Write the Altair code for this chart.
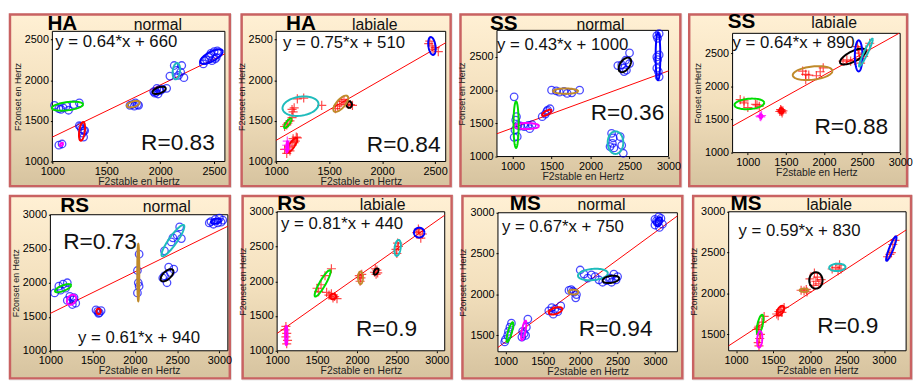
import numpy as np
import pandas as pd
import altair as alt

# ---------------- colours of the clusters ----------------
COLS = {"b": "#0000ff", "g": "#00dd00", "m": "#ff00ff", "r": "#ff0000",
        "k": "#000000", "c": "#1fbcbc", "o": "#c08a2a"}

# ---------------- data ----------------
# HA normal
HA_N_X = [1020, 1060, 1100, 1150, 1200, 1250, 1130, 1080, 1060, 1090,
          1250, 1270, 1290, 1280, 1300, 1290, 1260, 1720, 1760, 1790, 1740, 1770, 1800,
          1940, 1960, 1990, 2020, 2060, 1970, 2000, 1950, 1980,
          2090, 2130, 2200, 2170, 2220, 2150, 2190,
          2400, 2430, 2460, 2500, 2520, 2480, 2540, 2450, 2410, 2510, 2470, 2530]
HA_N_Y = [1690, 1650, 1660, 1630, 1700, 1720, 1680, 1640, 1200, 1215,
          1440, 1400, 1380, 1350, 1380, 1300, 1430, 1690, 1680, 1700, 1700, 1720, 1690,
          1860, 1850, 1880, 1890, 1900, 1900, 1870, 1840, 1830,
          2050, 2180, 2180, 2060, 2030, 2120, 2100,
          2200, 2250, 2300, 2350, 2280, 2240, 2330, 2280, 2240, 2260, 2330, 2360]
HA_N_ELL = [(1140, 1680, 145, 55, 0.4, "g"), (1085, 1210, 15, 20, 0.5, "m"),
            (1275, 1370, 28, 115, 0.4, "r"), (1750, 1705, 60, 40, 0.5, "o"),
            (1990, 1875, 60, 45, 0.5, "k"), (2150, 2110, 35, 100, 0.2, "c"),
            (2475, 2290, 105, 90, 0.7, "b")]
HA_N_FIT = (0.64, 660)
HA_N_R = 0.83

# HA labiale
HA_L_X = [2450, 2470, 2500, 2530, 2440, 2480, 1680, 1700, 1720, 1560, 1600, 1640, 1660, 1580, 1620,
          1150, 1160, 1170, 1200, 1260, 1430, 1080, 1110, 1130, 1100, 1150,
          1080, 1120, 1150, 1180, 1200, 1160, 1130, 1100, 1170, 1190, 1095, 1100, 1105]
HA_L_Y = [2480, 2420, 2400, 2350, 2450, 2380, 1700, 1700, 1690, 1650, 1700, 1760, 1720, 1680, 1740,
          1640, 1610, 1660, 1770, 1780, 1690, 1430, 1470, 1500, 1450, 1540,
          1150, 1180, 1200, 1250, 1290, 1280, 1130, 1100, 1230, 1300, 1150, 1200, 1250]
HA_L_C = ["r"] * 36 + ["m"] * 3
HA_L_ELL = [(2470, 2420, 35, 110, -0.3, "b"), (1690, 1700, 25, 40, 0.0, "k"),
            (1610, 1710, 70, 100, 0.7, "o"), (1230, 1680, 170, 120, 0.2, "c"),
            (1110, 1470, 35, 60, 0.8, "g"), (1150, 1200, 50, 90, 0.8, "r"),
            (1105, 1180, 10, 70, 0.3, "m")]
HA_L_FIT = (0.75, 510)
HA_L_R = 0.84

# SS normal
SS_N_X = [2850, 2880, 2860, 2850, 2880, 2860, 2870, 2880, 2850,
          2400, 2450, 2500, 2460, 2430, 2350, 2500, 2420,
          1500, 1560, 1600, 1660, 1700, 1760, 1860, 1380, 1420, 1450, 1480, 1440,
          1150, 1200, 1250, 1220, 1100, 1020, 1050, 1030, 1060, 1020, 1070, 1040,
          2270, 2290, 2380, 2300, 2250, 2400, 2420, 2280]
SS_N_Y = [2820, 2850, 2780, 2500, 2530, 2460, 2280, 2200, 2330,
          2380, 2450, 2560, 2300, 2280, 2370, 2400, 2330,
          2000, 1990, 1970, 1980, 1950, 1960, 2000, 1600, 1640, 1700, 1720, 1680,
          1450, 1470, 1480, 1420, 1460, 1900, 1600, 1400, 1300, 1290, 1470, 1550,
          1350, 1280, 1300, 1130, 1150, 1170, 1050, 1200]
SS_N_ELL = [(2865, 2510, 30, 360, 0.0, "b"), (2440, 2380, 80, 110, 0.5, "k"),
            (1680, 1985, 160, 40, 0.0, "o"), (1440, 1660, 60, 45, 0.7, "r"),
            (1180, 1460, 160, 45, 0.0, "m"), (1045, 1480, 33, 350, 0.0, "g"),
            (2320, 1210, 100, 170, 0.0, "c")]
SS_N_FIT = (0.43, 1000)
SS_N_R = 0.36

# SS labiale
SS_L_X = [900, 950, 1000, 1100, 1120, 1150, 950, 1420, 1440, 1460, 1430, 1450, 1440,
          1720, 1760, 1760, 1900, 1990, 1950, 1800, 2250, 2300, 2350, 2400,
          2450, 2460, 2470, 2480, 2440, 2600, 2550, 2520, 1160, 1180, 1170]
SS_L_Y = [1800, 1750, 1680, 1730, 1720, 1700, 1780, 1620, 1640, 1630, 1650, 1600, 1620,
          2230, 2180, 2100, 2160, 2280, 2220, 2170, 2380, 2400, 2380, 2390,
          2550, 2500, 2420, 2350, 2600, 2650, 2550, 2450, 1550, 1560, 1540]
SS_L_C = ["r"] * 32 + ["m"] * 3
SS_L_ELL = [(1020, 1735, 195, 80, 0.2, "g"), (1170, 1550, 20, 30, 0.0, "m"),
            (1440, 1630, 30, 40, 0.0, "r"), (1850, 2200, 260, 105, 0.3, "o"),
            (2380, 2450, 170, 120, 0.7, "k"), (2455, 2460, 50, 235, 0.0, "b"),
            (2550, 2510, 90, 210, 0.95, "c")]
SS_L_FIT = (0.64, 890)
SS_L_R = 0.88

# RS normal
RS_N_X = [2900, 2950, 3000, 3020, 2930, 2980, 3040, 2880,
          2350, 2430, 2450, 2530, 2550, 2500, 2330, 2380, 2400, 2460, 2350, 2420,
          2050, 2030, 2040, 2050, 2030, 1050, 1100, 1150, 1200, 1180, 1120,
          1230, 1270, 1300, 1200, 1260, 1280, 1540, 1580, 1560, 1600, 1570]
RS_N_Y = [2900, 2930, 2950, 2890, 2860, 2880, 2920, 2880,
          2470, 2600, 2660, 2820, 2650, 2700, 2070, 2000, 2230, 2200, 2100, 2150,
          2420, 2180, 2000, 1950, 1850, 1850, 1950, 1980, 2000, 1920, 1890,
          1800, 1750, 1700, 1740, 1680, 1780, 1600, 1560, 1580, 1590, 1550]
RS_N_ELL = [(2960, 2905, 60, 40, 0.3, "b"), (2450, 2620, 135, 230, 0.9, "c"),
            (2380, 2110, 75, 90, 0.6, "k"), (2040, 2150, 12, 420, 0.0, "o"),
            (1150, 1920, 95, 60, 0.7, "g"), (1250, 1750, 55, 75, 0.3, "m"),
            (1570, 1580, 25, 40, 0.0, "r")]
RS_N_FIT = (0.61, 940)
RS_N_R = 0.73

# RS labiale
RS_L_X = [2750, 2780, 2820, 2800, 2770, 2500, 2520, 2510, 2490, 2220, 2250, 2230, 2260, 2240,
          2030, 2060, 2040, 2050, 1650, 1700, 1720, 1680, 1750, 1620,
          1500, 1550, 1600, 1680, 1520, 1110, 1120, 1110, 1130, 1120, 1100]
RS_L_Y = [2700, 2720, 2680, 2620, 2750, 2400, 2500, 2550, 2460, 2130, 2160, 2180, 2120, 2100,
          2080, 2100, 2000, 2050, 1800, 1760, 1780, 1820, 1750, 1840,
          1900, 1950, 2080, 2180, 1850, 1350, 1250, 1200, 1150, 1100, 1300]
RS_L_ELL = [(2780, 2700, 65, 70, 0.0, "b"), (2510, 2480, 40, 115, 0.3, "c"),
            (2240, 2140, 30, 45, 0.5, "k"), (2045, 2050, 30, 90, 0.0, "o"),
            (1700, 1780, 40, 40, 0.0, "r"), (1570, 1970, 100, 190, 0.9, "g"),
            (1115, 1220, 15, 140, 0.0, "m")]
RS_L_FIT = (0.81, 440)
RS_L_R = 0.9

# MS normal
MS_N_X = [3000, 3020, 3050, 3080, 3100, 3030, 3060, 3000,
          2000, 2050, 2100, 2200, 2250, 2150, 2300, 2350, 2400, 2450, 2500, 2420, 2480,
          1850, 1880, 1920, 1950, 1940, 1900, 1580, 1620, 1660, 1700, 1740, 1640,
          1220, 1250, 1280, 1300, 1230, 1270, 1000, 1030, 1060, 1080, 1040, 990]
MS_N_Y = [2850, 2900, 2950, 2930, 2860, 2880, 2820, 2920,
          2300, 2250, 2200, 2220, 2180, 2240, 2150, 2170, 2200, 2250, 2220, 2150, 2180,
          2050, 2060, 2030, 2000, 1960, 2040, 1800, 1840, 1820, 1790, 1860, 1760,
          1480, 1520, 1600, 1700, 1550, 1500, 1450, 1500, 1600, 1650, 1550, 1420]
MS_N_ELL = [(3050, 2890, 45, 55, 0.3, "b"), (2170, 2245, 200, 70, 0.2, "c"),
            (2410, 2185, 110, 45, 0.3, "k"), (1910, 2030, 65, 30, 0.0, "o"),
            (1670, 1800, 90, 45, 0.5, "r"), (1245, 1560, 35, 120, 0.7, "m"),
            (1060, 1540, 45, 120, 0.8, "g")]
MS_N_FIT = (0.67, 750)
MS_N_R = 0.94

# MS labiale
MS_L_X = [3050, 3100, 3120, 3150, 3080, 2300, 2350, 2400, 2420, 2380,
          2050, 2080, 2100, 2060, 2120, 2000, 2150, 1880, 1920, 1950, 1960,
          1550, 1580, 1600, 1650, 1620, 1570, 1280, 1300, 1350, 1380, 1310,
          1300, 1320, 1330, 1310]
MS_L_Y = [2450, 2500, 2600, 2650, 2480, 2300, 2320, 2350, 2300, 2280,
          2100, 2150, 2200, 2250, 2120, 2180, 2170, 2040, 2030, 2050, 2020,
          1750, 1780, 1800, 1830, 1770, 1730, 1560, 1580, 1650, 1720, 1600,
          1400, 1450, 1500, 1360]
MS_L_ELL = [(3100, 2550, 70, 150, 0.9, "b"), (2370, 2320, 110, 45, 0.1, "c"),
            (2080, 2160, 90, 100, 0.0, "k"), (1920, 2040, 60, 20, 0.0, "o"),
            (1600, 1790, 50, 60, 0.5, "r"), (1325, 1620, 45, 120, 0.6, "g"),
            (1320, 1440, 35, 100, 0.2, "m")]
MS_L_FIT = (0.59, 830)
MS_L_R = 0.9

# axis domains and tick values
DOM_X = {"HA": [1000, 2600], "SS": [800, 3000], "RS": [1000, 3100], "MS": [900, 3300]}
DOM_Y = {"HA": [1000, 2600], "SS_N": [1000, 2900], "SS_L": [1000, 2800], "RS": [1000, 3000], "MS": [1300, 3000]}
TICKS_X = {"HA": [1000, 1500, 2000, 2500], "SS": [1000, 1500, 2000, 2500, 3000],
           "RS": [1000, 1500, 2000, 2500, 3000], "MS": [1000, 1500, 2000, 2500, 3000]}
TICKS_Y = {"HA": [1000, 1500, 2000, 2500], "SS": [1000, 1500, 2000, 2500],
           "RS": [1000, 1500, 2000, 2500, 3000], "MS": [1500, 2000, 2500, 3000]}

# ---------------- layout (pixels, styling) ----------------
FONT = "Liberation Sans"
ROW_H = [176, 187]

GRAD = alt.LinearGradient(gradient="linear",
                          stops=[alt.GradientStop(color="#fff0d4", offset=0),
                                 alt.GradientStop(color="#f3e0bd", offset=0.5),
                                 alt.GradientStop(color="#d6c39f", offset=1)],
                          x1=0, x2=0, y1=0, y2=1)


def ellipse_frame(ells):
    rows = []
    t = np.linspace(0, 2 * np.pi, 73)
    for i, (cx, cy, rx, ry, rho, c) in enumerate(ells):
        xs = cx + rx * np.cos(t)
        ys = cy + ry * (rho * np.cos(t) + np.sqrt(1 - rho ** 2) * np.sin(t))
        for k in range(len(t)):
            rows.append({"x": xs[k], "y": ys[k], "e": i, "t": k, "c": COLS[c]})
    return pd.DataFrame(rows)


def fit_frame(fit, xd, yd):
    m, b = fit
    x0 = max(xd[0], (yd[0] - b) / m)
    x1 = min(xd[1], (yd[1] - b) / m)
    return pd.DataFrame({"x": [x0, x1], "y": [m * x0 + b, m * x1 + b]})


def panel(spk, cond, xs, ys, cols, ells, fit, r, xd, yd, xt, yt, lay):
    W, H = lay["w"], lay["h"]
    xr, yr = lay["xr"], lay["yr"]
    xsc = alt.Scale(domain=xd, range=[xr[0], xr[1]], nice=False, zero=False)
    ysc = alt.Scale(domain=yd, range=[yr[1], yr[0]], nice=False, zero=False)
    common = dict(grid=False, domain=False, tickSize=2, tickColor="#000", labelFontSize=11,
                  labelColor="#000", labelOverlap=False, labelFlush=False,
                  titleFont=FONT, labelFont=FONT, titleFontWeight="normal", titleColor="#222",
                  zindex=1)
    xax = alt.Axis(values=xt, offset=-(H - yr[1]), title=lay["xtitle"], titleFontSize=10.5,
                   titlePadding=0, labelPadding=2, format="d", **common)
    yax = alt.Axis(values=yt, offset=-xr[0], title=lay["ytitle"], titleFontSize=9,
                   titlePadding=2, labelPadding=2, format="d", **common)
    X = alt.X("x:Q", scale=xsc, axis=xax)
    Y = alt.Y("y:Q", scale=ysc, axis=yax)

    back = alt.Chart(pd.DataFrame({"k": [0]})).mark_rect(
        fill=GRAD, stroke="#c96262", strokeWidth=2.5).encode(
        x=alt.value(1), x2=alt.value(W - 1), y=alt.value(1), y2=alt.value(H - 1))

    bg = alt.Chart(pd.DataFrame({"x": [xd[0]], "x2": [xd[1]], "y": [yd[0]], "y2": [yd[1]]})).mark_rect(
        fill="white", stroke="black", strokeWidth=1).encode(x=X, x2="x2:Q", y=Y, y2="y2:Q")

    fitl = alt.Chart(fit_frame(fit, xd, yd)).mark_line(color="#ff0000", strokeWidth=1).encode(x=X, y=Y)

    pts_df = pd.DataFrame({"x": xs, "y": ys, "c": [COLS[c] for c in cols]})
    if cond == "normal":
        pts = alt.Chart(pts_df).mark_point(shape="circle", filled=False, size=58, strokeWidth=1.3).encode(
            x=X, y=Y, color=alt.Color("c:N", scale=None))
    else:
        pts = alt.Chart(pts_df).mark_point(shape="M-1,0L1,0M0,-1L0,1", filled=False, size=85,
                                           strokeWidth=1.2).encode(
            x=X, y=Y, color=alt.Color("c:N", scale=None))

    el = alt.Chart(ellipse_frame(ells)).mark_line(strokeWidth=2).encode(
        x=X, y=Y, detail="e:N", order="t:Q", color=alt.Color("c:N", scale=None))

    m, b = fit
    eq = alt.Chart(pd.DataFrame({"s": [f"y = {m:.2f}*x + {b}"]})).mark_text(
        align="left", baseline="middle", fontSize=17, font=FONT, color="#111").encode(
        text="s:N", x=alt.value(lay["eq"][0]), y=alt.value(lay["eq"][1]))
    rt = alt.Chart(pd.DataFrame({"s": [f"R={r}"]})).mark_text(
        align="left", baseline="middle", fontSize=23, font=FONT, color="#111").encode(
        text="s:N", x=alt.value(lay["rp"][0]), y=alt.value(lay["rp"][1]))
    sp = alt.Chart(pd.DataFrame({"s": [spk]})).mark_text(
        align="left", baseline="alphabetic", fontSize=21, font=FONT, fontWeight="bold", color="#000").encode(
        text="s:N", x=alt.value(lay["sp"][0]), y=alt.value(lay["sp"][1]))
    cd = alt.Chart(pd.DataFrame({"s": [cond]})).mark_text(
        align="center", baseline="alphabetic", fontSize=16, font=FONT, color="#111").encode(
        text="s:N", x=alt.value(lay["cp"][0]), y=alt.value(lay["cp"][1]))

    return alt.layer(back, bg, fitl, pts, el, eq, rt, sp, cd).properties(width=W, height=H)


T1X, T1Y = "F2stable en Hertz", "F2onset en Hertz"
T2X, T2Y = "F2stable  en Hertz", "F2onset  en Hertz"
L = [
    dict(w=225, h=ROW_H[0], xr=(44, 219), yr=(18, 150), eq=(47, 29), rp=(134, 131), sp=(39, 17), cp=(151, 17), xtitle=T1X, ytitle=T1Y),
    dict(w=214, h=ROW_H[0], xr=(36, 208), yr=(18, 150), eq=(43, 30), rp=(128, 133), sp=(46, 17), cp=(136, 17), xtitle=T1X, ytitle=T1Y),
    dict(w=225, h=ROW_H[0], xr=(38, 212), yr=(17, 145), eq=(38, 32), rp=(133, 101), sp=(31, 17), cp=(143, 17), xtitle=T1X, ytitle="Fonset en Hertz"),
    dict(w=223, h=ROW_H[0], xr=(45, 215), yr=(20, 141), eq=(45, 30), rp=(128, 115), sp=(40, 15), cp=(148, 15), xtitle=T1X, ytitle="Fonset enHertz"),
    dict(w=225, h=ROW_H[1], xr=(42, 222), yr=(20, 158), eq=(70, 145), rp=(55, 48), sp=(52, 17), cp=(160, 17), xtitle=T2X, ytitle=T2Y),
    dict(w=214, h=ROW_H[1], xr=(36, 206), yr=(17, 158), eq=(40, 29), rp=(116, 136), sp=(36, 15), cp=(143, 15), xtitle=T2X, ytitle=T2Y),
    dict(w=225, h=ROW_H[1], xr=(37, 219), yr=(18, 159), eq=(41, 33), rp=(119, 136), sp=(49, 15), cp=(142, 15), xtitle=T2X, ytitle=T2Y),
    dict(w=223, h=ROW_H[1], xr=(37, 217), yr=(17, 158), eq=(47, 37), rp=(127, 133), sp=(39, 15), cp=(139, 15), xtitle=T2X, ytitle=T2Y),
]

p1 = panel("HA", "normal", HA_N_X, HA_N_Y, ["b"] * len(HA_N_X), HA_N_ELL, HA_N_FIT, HA_N_R,
           DOM_X["HA"], DOM_Y["HA"], TICKS_X["HA"], TICKS_Y["HA"], L[0])
p2 = panel("HA", "labiale", HA_L_X, HA_L_Y, HA_L_C, HA_L_ELL, HA_L_FIT, HA_L_R,
           DOM_X["HA"], DOM_Y["HA"], TICKS_X["HA"], TICKS_Y["HA"], L[1])
p3 = panel("SS", "normal", SS_N_X, SS_N_Y, ["b"] * len(SS_N_X), SS_N_ELL, SS_N_FIT, SS_N_R,
           DOM_X["SS"], DOM_Y["SS_N"], TICKS_X["SS"], TICKS_Y["SS"], L[2])
p4 = panel("SS", "labiale", SS_L_X, SS_L_Y, SS_L_C, SS_L_ELL, SS_L_FIT, SS_L_R,
           DOM_X["SS"], DOM_Y["SS_L"], TICKS_X["SS"], TICKS_Y["SS"], L[3])
p5 = panel("RS", "normal", RS_N_X, RS_N_Y, ["b"] * len(RS_N_X), RS_N_ELL, RS_N_FIT, RS_N_R,
           DOM_X["RS"], DOM_Y["RS"], TICKS_X["RS"], TICKS_Y["RS"], L[4])
p6 = panel("RS", "labiale", RS_L_X, RS_L_Y, ["r"] * len(RS_L_X), RS_L_ELL, RS_L_FIT, RS_L_R,
           DOM_X["RS"], DOM_Y["RS"], TICKS_X["RS"], TICKS_Y["RS"], L[5])
p7 = panel("MS", "normal", MS_N_X, MS_N_Y, ["b"] * len(MS_N_X), MS_N_ELL, MS_N_FIT, MS_N_R,
           DOM_X["MS"], DOM_Y["MS"], TICKS_X["MS"], TICKS_Y["MS"], L[6])
p8 = panel("MS", "labiale", MS_L_X, MS_L_Y, ["r"] * len(MS_L_X), MS_L_ELL, MS_L_FIT, MS_L_R,
           DOM_X["MS"], DOM_Y["MS"], TICKS_X["MS"], TICKS_Y["MS"], L[7])

row1 = alt.hconcat(p1, p2, p3, p4, spacing=5)
row2 = alt.hconcat(p5, p6, p7, p8, spacing=5)

chart = alt.vconcat(row1, row2, spacing=4).properties(padding=0, background="white").configure_view(
    strokeWidth=0
).configure(font=FONT)

chart.save("out.html", embed_options={"renderer": "svg", "actions": False})
